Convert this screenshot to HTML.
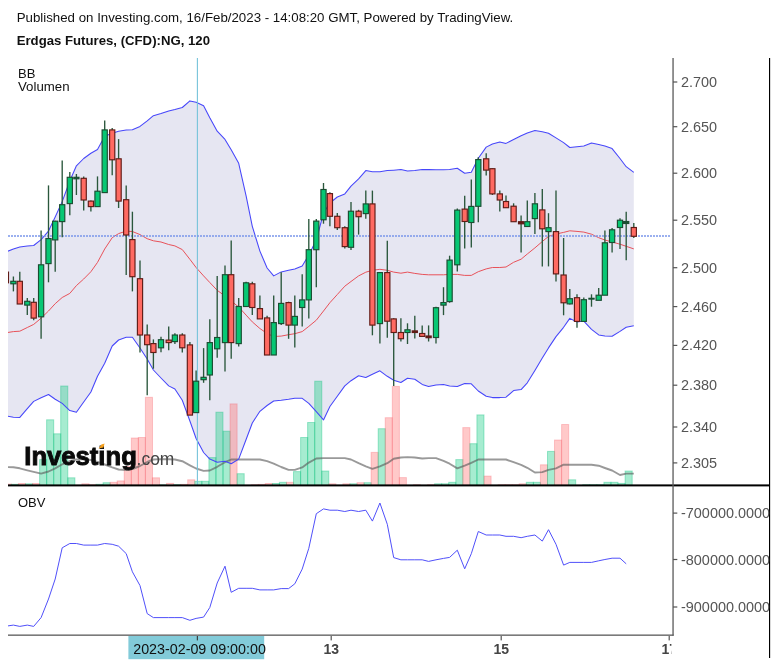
<!DOCTYPE html>
<html lang="de"><head><meta charset="utf-8"><title>Erdgas Futures, (CFD):NG, 120</title>
<style>html,body{margin:0;padding:0;background:#fff;}body{width:777px;height:664px;overflow:hidden;}svg{display:block;}text{font-family:"Liberation Sans", Arial, sans-serif;}</style>
</head><body>
<svg width="777" height="664" viewBox="0 0 777 664">
<defs><clipPath id="cm"><rect x="8" y="58" width="664" height="427"/></clipPath><clipPath id="co"><rect x="8" y="487" width="664" height="148"/></clipPath><clipPath id="cax"><rect x="673" y="58" width="96.5" height="600"/></clipPath><clipPath id="ct"><rect x="8" y="636" width="663.4" height="28"/></clipPath></defs>
<rect width="777" height="664" fill="#fff"/>
<text x="16.7" y="21.8" font-size="13.33" fill="#111" textLength="496.5" lengthAdjust="spacingAndGlyphs">Published on Investing.com, 16/Feb/2023 - 14:08:20 GMT, Powered by TradingView.</text>
<text x="16.7" y="45.2" font-size="13.33" font-weight="bold" fill="#111" textLength="193.3" lengthAdjust="spacingAndGlyphs">Erdgas Futures, (CFD):NG, 120</text>
<g clip-path="url(#cm)">
<polygon points="5.9,252 13.4,249 19.8,247 27.3,246 33.7,245.5 41.1,239.7 48.5,231.1 55.2,217 62.2,201.6 69.8,181 76.4,165.8 83.7,158.5 90.9,153.3 97.5,149.5 104.7,136.3 112.2,133.2 118.6,131.2 126.2,130.1 132.4,129.7 140,126.4 147.2,120.9 153.4,115.7 161,113.5 168.7,111 174.9,109.5 182.3,107.5 189.9,100.9 196.1,102.3 203.6,105.8 209.8,117.8 217.2,131.2 225,139.4 231.2,149.8 238.7,163.3 246.1,195.8 252.3,226.3 259.9,251.1 267.1,268 273.7,275.9 281.2,271.9 288.6,270.3 294.8,269 302.2,266.1 308.8,255 316.3,240 323.5,213 329.9,203 337.3,197 344.8,193.9 351,186.1 358.6,178.9 365.8,170.6 372.4,171.7 379.9,171.7 387.3,170.6 393.7,170.2 400.9,169.6 407.5,171 414.8,170.6 422.2,169.6 428.6,169.6 436,169.8 443.5,169.8 449.6,169.6 457.3,168.2 464.7,173.3 471.3,172.3 478.3,158.3 486.2,147.1 492.4,144 499.8,142 506,143.4 513.6,139.5 521.1,135.8 527.3,133.1 534.9,130.6 542.3,131.7 548.5,133.3 556,137.9 563.6,142.6 569.8,147.5 577,146.7 583.8,146.1 591.5,143 598.7,144.5 604.9,146.1 612.1,148.6 620,158.5 626.2,166.7 633.8,172.3 633.8,325.8 626.2,327.3 620,331.4 612.1,336.2 604.9,335.9 598.7,334.9 591.5,329.3 583.8,321.1 577,322 569.8,318.4 563.6,327.3 556,336.6 548.5,347.9 542.3,358 534.9,370.4 527.3,382.8 521.1,389.6 513.6,390.6 506,397.2 499.8,397.6 492.4,397.6 486.2,396.2 478.3,391 471.3,383.8 464.7,383.4 457.3,386.5 449.6,385.9 443.5,384.4 436,384.9 428.6,386.5 422.2,384.4 414.8,379.2 407.5,378.2 400.9,382.5 393.7,380.2 387.3,376.3 379.9,370.8 372.4,374.2 365.8,377.5 358.6,375.8 351,380.7 344.8,385.9 337.3,396.2 329.9,406.5 323.5,419.9 316.3,411.7 308.8,403.4 302.2,398.3 294.8,398.3 288.6,399.3 281.2,400.3 273.7,401 267.1,405.5 259.9,411.3 252.3,423 246.1,439.5 238.7,459.1 231.2,463.7 225,461.2 217.2,462.2 209.8,459.1 203.6,452.5 196.1,438.5 189.9,421 182.3,400.3 174.9,389 168.7,385.9 161,378 153.4,370 147.2,359 140,348 132.4,337.2 126.2,337.2 118.6,340 112.2,346 104.7,363.2 97.5,376.2 90.9,392 83.7,402 76.4,412.3 69.8,410.6 62.2,403.4 55.2,399.3 48.5,394.5 41.1,397.8 33.7,401.4 27.3,408.6 19.8,417.4 13.4,417.2 5.9,416" fill="#e6e6f2"/>
<rect x="4.3" y="484" width="7.1" height="2.4" fill="rgba(255,100,100,0.35)" stroke="rgba(245,90,100,0.30)" stroke-width="1"/>
<rect x="11.4" y="484.3" width="7.1" height="2.1" fill="rgba(0,200,120,0.35)" stroke="rgba(0,190,120,0.35)" stroke-width="1"/>
<rect x="18.4" y="483.5" width="7.1" height="2.9" fill="rgba(255,100,100,0.35)" stroke="rgba(245,90,100,0.30)" stroke-width="1"/>
<rect x="25.5" y="483.8" width="7.1" height="2.6" fill="rgba(0,200,120,0.35)" stroke="rgba(0,190,120,0.35)" stroke-width="1"/>
<rect x="32.5" y="483.5" width="7.1" height="2.9" fill="rgba(255,100,100,0.35)" stroke="rgba(245,90,100,0.30)" stroke-width="1"/>
<rect x="39.6" y="459.6" width="7.1" height="26.8" fill="rgba(0,200,120,0.35)" stroke="rgba(0,190,120,0.35)" stroke-width="1"/>
<rect x="46.6" y="419.8" width="7.1" height="66.6" fill="rgba(0,200,120,0.35)" stroke="rgba(0,190,120,0.35)" stroke-width="1"/>
<rect x="53.7" y="433.8" width="7.1" height="52.6" fill="rgba(0,200,120,0.35)" stroke="rgba(0,190,120,0.35)" stroke-width="1"/>
<rect x="60.7" y="386" width="7.1" height="100.4" fill="rgba(0,200,120,0.35)" stroke="rgba(0,190,120,0.35)" stroke-width="1"/>
<rect x="67.8" y="477.8" width="7.1" height="8.6" fill="rgba(0,200,120,0.35)" stroke="rgba(0,190,120,0.35)" stroke-width="1"/>
<rect x="81.9" y="483.8" width="7.1" height="2.6" fill="rgba(255,100,100,0.35)" stroke="rgba(245,90,100,0.30)" stroke-width="1"/>
<rect x="88.9" y="484.7" width="7.1" height="1.7" fill="rgba(255,100,100,0.35)" stroke="rgba(245,90,100,0.30)" stroke-width="1"/>
<rect x="96" y="484.3" width="7.1" height="2.1" fill="rgba(0,200,120,0.35)" stroke="rgba(0,190,120,0.35)" stroke-width="1"/>
<rect x="103.1" y="482.7" width="7.1" height="3.7" fill="rgba(0,200,120,0.35)" stroke="rgba(0,190,120,0.35)" stroke-width="1"/>
<rect x="110.1" y="482.3" width="7.1" height="4.1" fill="rgba(255,100,100,0.35)" stroke="rgba(245,90,100,0.30)" stroke-width="1"/>
<rect x="117.2" y="480.9" width="7.1" height="5.5" fill="rgba(255,100,100,0.35)" stroke="rgba(245,90,100,0.30)" stroke-width="1"/>
<rect x="124.2" y="466.5" width="7.1" height="19.9" fill="rgba(255,100,100,0.35)" stroke="rgba(245,90,100,0.30)" stroke-width="1"/>
<rect x="131.3" y="438" width="7.1" height="48.4" fill="rgba(255,100,100,0.35)" stroke="rgba(245,90,100,0.30)" stroke-width="1"/>
<rect x="138.3" y="437.5" width="7.1" height="48.9" fill="rgba(255,100,100,0.35)" stroke="rgba(245,90,100,0.30)" stroke-width="1"/>
<rect x="145.4" y="397.3" width="7.1" height="89.1" fill="rgba(255,100,100,0.35)" stroke="rgba(245,90,100,0.30)" stroke-width="1"/>
<rect x="152.4" y="477.8" width="7.1" height="8.6" fill="rgba(255,100,100,0.35)" stroke="rgba(245,90,100,0.30)" stroke-width="1"/>
<rect x="159.5" y="484.9" width="7.1" height="1.5" fill="rgba(0,200,120,0.35)" stroke="rgba(0,190,120,0.35)" stroke-width="1"/>
<rect x="166.5" y="483.4" width="7.1" height="3" fill="rgba(255,100,100,0.35)" stroke="rgba(245,90,100,0.30)" stroke-width="1"/>
<rect x="173.6" y="484.7" width="7.1" height="1.7" fill="rgba(0,200,120,0.35)" stroke="rgba(0,190,120,0.35)" stroke-width="1"/>
<rect x="180.7" y="484.4" width="7.1" height="2" fill="rgba(255,100,100,0.35)" stroke="rgba(245,90,100,0.30)" stroke-width="1"/>
<rect x="187.7" y="479.8" width="7.1" height="6.6" fill="rgba(255,100,100,0.35)" stroke="rgba(245,90,100,0.30)" stroke-width="1"/>
<rect x="194.8" y="481.3" width="7.1" height="5.1" fill="rgba(0,200,120,0.35)" stroke="rgba(0,190,120,0.35)" stroke-width="1"/>
<rect x="201.8" y="481.3" width="7.1" height="5.1" fill="rgba(0,200,120,0.35)" stroke="rgba(0,190,120,0.35)" stroke-width="1"/>
<rect x="208.9" y="457.6" width="7.1" height="28.8" fill="rgba(0,200,120,0.35)" stroke="rgba(0,190,120,0.35)" stroke-width="1"/>
<rect x="215.9" y="412.2" width="7.1" height="74.2" fill="rgba(0,200,120,0.35)" stroke="rgba(0,190,120,0.35)" stroke-width="1"/>
<rect x="223" y="431.2" width="7.1" height="55.2" fill="rgba(0,200,120,0.35)" stroke="rgba(0,190,120,0.35)" stroke-width="1"/>
<rect x="230" y="403.9" width="7.1" height="82.5" fill="rgba(255,100,100,0.35)" stroke="rgba(245,90,100,0.30)" stroke-width="1"/>
<rect x="237.1" y="473.7" width="7.1" height="12.7" fill="rgba(0,200,120,0.35)" stroke="rgba(0,190,120,0.35)" stroke-width="1"/>
<rect x="251.2" y="484.7" width="7.1" height="1.7" fill="rgba(255,100,100,0.35)" stroke="rgba(245,90,100,0.30)" stroke-width="1"/>
<rect x="258.2" y="484.4" width="7.1" height="2" fill="rgba(255,100,100,0.35)" stroke="rgba(245,90,100,0.30)" stroke-width="1"/>
<rect x="265.3" y="483.5" width="7.1" height="2.9" fill="rgba(255,100,100,0.35)" stroke="rgba(245,90,100,0.30)" stroke-width="1"/>
<rect x="272.4" y="483.5" width="7.1" height="2.9" fill="rgba(0,200,120,0.35)" stroke="rgba(0,190,120,0.35)" stroke-width="1"/>
<rect x="279.4" y="482.3" width="7.1" height="4.1" fill="rgba(0,200,120,0.35)" stroke="rgba(0,190,120,0.35)" stroke-width="1"/>
<rect x="286.5" y="482.3" width="7.1" height="4.1" fill="rgba(255,100,100,0.35)" stroke="rgba(245,90,100,0.30)" stroke-width="1"/>
<rect x="293.5" y="471.6" width="7.1" height="14.8" fill="rgba(0,200,120,0.35)" stroke="rgba(0,190,120,0.35)" stroke-width="1"/>
<rect x="300.6" y="437.5" width="7.1" height="48.9" fill="rgba(0,200,120,0.35)" stroke="rgba(0,190,120,0.35)" stroke-width="1"/>
<rect x="307.6" y="422.5" width="7.1" height="63.9" fill="rgba(0,200,120,0.35)" stroke="rgba(0,190,120,0.35)" stroke-width="1"/>
<rect x="314.7" y="381.2" width="7.1" height="105.2" fill="rgba(0,200,120,0.35)" stroke="rgba(0,190,120,0.35)" stroke-width="1"/>
<rect x="321.7" y="471" width="7.1" height="15.4" fill="rgba(0,200,120,0.35)" stroke="rgba(0,190,120,0.35)" stroke-width="1"/>
<rect x="328.8" y="483.8" width="7.1" height="2.6" fill="rgba(255,100,100,0.35)" stroke="rgba(245,90,100,0.30)" stroke-width="1"/>
<rect x="342.9" y="483.8" width="7.1" height="2.6" fill="rgba(255,100,100,0.35)" stroke="rgba(245,90,100,0.30)" stroke-width="1"/>
<rect x="349.9" y="483.8" width="7.1" height="2.6" fill="rgba(0,200,120,0.35)" stroke="rgba(0,190,120,0.35)" stroke-width="1"/>
<rect x="357" y="482.7" width="7.1" height="3.7" fill="rgba(255,100,100,0.35)" stroke="rgba(245,90,100,0.30)" stroke-width="1"/>
<rect x="364.1" y="482.7" width="7.1" height="3.7" fill="rgba(0,200,120,0.35)" stroke="rgba(0,190,120,0.35)" stroke-width="1"/>
<rect x="371.1" y="452.4" width="7.1" height="34" fill="rgba(255,100,100,0.35)" stroke="rgba(245,90,100,0.30)" stroke-width="1"/>
<rect x="378.2" y="428.7" width="7.1" height="57.7" fill="rgba(0,200,120,0.35)" stroke="rgba(0,190,120,0.35)" stroke-width="1"/>
<rect x="385.2" y="417.7" width="7.1" height="68.7" fill="rgba(255,100,100,0.35)" stroke="rgba(245,90,100,0.30)" stroke-width="1"/>
<rect x="392.3" y="386.4" width="7.1" height="100" fill="rgba(255,100,100,0.35)" stroke="rgba(245,90,100,0.30)" stroke-width="1"/>
<rect x="399.3" y="477.6" width="7.1" height="8.8" fill="rgba(255,100,100,0.35)" stroke="rgba(245,90,100,0.30)" stroke-width="1"/>
<rect x="413.4" y="484.7" width="7.1" height="1.7" fill="rgba(255,100,100,0.35)" stroke="rgba(245,90,100,0.30)" stroke-width="1"/>
<rect x="427.5" y="484.7" width="7.1" height="1.7" fill="rgba(255,100,100,0.35)" stroke="rgba(245,90,100,0.30)" stroke-width="1"/>
<rect x="434.6" y="483.8" width="7.1" height="2.6" fill="rgba(0,200,120,0.35)" stroke="rgba(0,190,120,0.35)" stroke-width="1"/>
<rect x="441.6" y="483.8" width="7.1" height="2.6" fill="rgba(0,200,120,0.35)" stroke="rgba(0,190,120,0.35)" stroke-width="1"/>
<rect x="448.7" y="482.3" width="7.1" height="4.1" fill="rgba(0,200,120,0.35)" stroke="rgba(0,190,120,0.35)" stroke-width="1"/>
<rect x="455.8" y="459.6" width="7.1" height="26.8" fill="rgba(0,200,120,0.35)" stroke="rgba(0,190,120,0.35)" stroke-width="1"/>
<rect x="462.8" y="427.6" width="7.1" height="58.8" fill="rgba(255,100,100,0.35)" stroke="rgba(245,90,100,0.30)" stroke-width="1"/>
<rect x="469.9" y="443.7" width="7.1" height="42.7" fill="rgba(0,200,120,0.35)" stroke="rgba(0,190,120,0.35)" stroke-width="1"/>
<rect x="476.9" y="414.9" width="7.1" height="71.5" fill="rgba(0,200,120,0.35)" stroke="rgba(0,190,120,0.35)" stroke-width="1"/>
<rect x="484" y="476.1" width="7.1" height="10.3" fill="rgba(255,100,100,0.35)" stroke="rgba(245,90,100,0.30)" stroke-width="1"/>
<rect x="498.1" y="484.7" width="7.1" height="1.7" fill="rgba(255,100,100,0.35)" stroke="rgba(245,90,100,0.30)" stroke-width="1"/>
<rect x="505.1" y="484.7" width="7.1" height="1.7" fill="rgba(255,100,100,0.35)" stroke="rgba(245,90,100,0.30)" stroke-width="1"/>
<rect x="512.2" y="484.7" width="7.1" height="1.7" fill="rgba(255,100,100,0.35)" stroke="rgba(245,90,100,0.30)" stroke-width="1"/>
<rect x="519.2" y="483.8" width="7.1" height="2.6" fill="rgba(255,100,100,0.35)" stroke="rgba(245,90,100,0.30)" stroke-width="1"/>
<rect x="526.3" y="482.3" width="7.1" height="4.1" fill="rgba(0,200,120,0.35)" stroke="rgba(0,190,120,0.35)" stroke-width="1"/>
<rect x="533.4" y="482.3" width="7.1" height="4.1" fill="rgba(0,200,120,0.35)" stroke="rgba(0,190,120,0.35)" stroke-width="1"/>
<rect x="540.4" y="464.8" width="7.1" height="21.6" fill="rgba(255,100,100,0.35)" stroke="rgba(245,90,100,0.30)" stroke-width="1"/>
<rect x="547.5" y="451.4" width="7.1" height="35" fill="rgba(0,200,120,0.35)" stroke="rgba(0,190,120,0.35)" stroke-width="1"/>
<rect x="554.5" y="440" width="7.1" height="46.4" fill="rgba(255,100,100,0.35)" stroke="rgba(245,90,100,0.30)" stroke-width="1"/>
<rect x="561.6" y="424.5" width="7.1" height="61.9" fill="rgba(255,100,100,0.35)" stroke="rgba(245,90,100,0.30)" stroke-width="1"/>
<rect x="568.6" y="479.8" width="7.1" height="6.6" fill="rgba(0,200,120,0.35)" stroke="rgba(0,190,120,0.35)" stroke-width="1"/>
<rect x="582.7" y="484.7" width="7.1" height="1.7" fill="rgba(0,200,120,0.35)" stroke="rgba(0,190,120,0.35)" stroke-width="1"/>
<rect x="589.8" y="484.7" width="7.1" height="1.7" fill="rgba(0,200,120,0.35)" stroke="rgba(0,190,120,0.35)" stroke-width="1"/>
<rect x="596.8" y="484.7" width="7.1" height="1.7" fill="rgba(0,200,120,0.35)" stroke="rgba(0,190,120,0.35)" stroke-width="1"/>
<rect x="603.9" y="482.3" width="7.1" height="4.1" fill="rgba(0,200,120,0.35)" stroke="rgba(0,190,120,0.35)" stroke-width="1"/>
<rect x="610.9" y="482.3" width="7.1" height="4.1" fill="rgba(0,200,120,0.35)" stroke="rgba(0,190,120,0.35)" stroke-width="1"/>
<rect x="618" y="483.4" width="7.1" height="3" fill="rgba(0,200,120,0.35)" stroke="rgba(0,190,120,0.35)" stroke-width="1"/>
<rect x="625.1" y="471" width="7.1" height="15.4" fill="rgba(0,200,120,0.35)" stroke="rgba(0,190,120,0.35)" stroke-width="1"/>
<polyline points="5.9,467 13.4,467.3 19.8,468.3 27.3,470.3 33.7,471.9 41.1,473.6 48.5,471.5 55.2,468.4 62.2,464.3 69.8,461 76.4,459.5 83.7,459 90.9,460 97.5,462 104.7,464.5 112.2,467.4 118.6,469.5 126.2,470 132.4,469 140,466 147.2,462 153.4,459.5 161,459.1 168.7,459.3 174.9,459.5 182.3,461.2 189.9,465.3 196.1,468.5 203.6,470.9 209.8,470.5 217.2,466.8 225,462.2 231.2,459.5 238.7,459.5 246.1,459.5 252.3,459.5 259.9,459.5 267.1,461.2 273.7,463.7 281.2,467 288.6,469.9 294.8,469.9 302.2,467.4 308.8,462.6 316.3,458.5 323.5,458.1 329.9,458.1 337.3,458.1 344.8,458.1 351,459.5 358.6,463.2 365.8,466.3 372.4,468.8 379.9,466.3 387.3,463.2 393.7,458.7 400.9,457.5 407.5,457.1 414.8,457.5 422.2,458.5 428.6,458.1 436,458.1 443.5,460.8 449.6,463.7 457.3,468.4 464.7,465.7 471.3,462.8 478.3,459.5 486.2,459.5 492.4,459.5 499.8,459.5 506,459.5 513.6,462.2 521.1,464.9 527.3,467.8 534.9,472.5 542.3,472.1 548.5,469.9 556,468.4 563.6,464.7 569.8,464.7 577,464.7 583.8,464.7 591.5,464.7 598.7,465.7 604.9,468 612.1,470.5 620,475 626.2,473.6 633.8,473.6" fill="none" stroke="rgba(90,90,90,0.62)" stroke-width="1.9" stroke-linejoin="round"/>
<polyline points="5.9,252 13.4,249 19.8,247 27.3,246 33.7,245.5 41.1,239.7 48.5,231.1 55.2,217 62.2,201.6 69.8,181 76.4,165.8 83.7,158.5 90.9,153.3 97.5,149.5 104.7,136.3 112.2,133.2 118.6,131.2 126.2,130.1 132.4,129.7 140,126.4 147.2,120.9 153.4,115.7 161,113.5 168.7,111 174.9,109.5 182.3,107.5 189.9,100.9 196.1,102.3 203.6,105.8 209.8,117.8 217.2,131.2 225,139.4 231.2,149.8 238.7,163.3 246.1,195.8 252.3,226.3 259.9,251.1 267.1,268 273.7,275.9 281.2,271.9 288.6,270.3 294.8,269 302.2,266.1 308.8,255 316.3,240 323.5,213 329.9,203 337.3,197 344.8,193.9 351,186.1 358.6,178.9 365.8,170.6 372.4,171.7 379.9,171.7 387.3,170.6 393.7,170.2 400.9,169.6 407.5,171 414.8,170.6 422.2,169.6 428.6,169.6 436,169.8 443.5,169.8 449.6,169.6 457.3,168.2 464.7,173.3 471.3,172.3 478.3,158.3 486.2,147.1 492.4,144 499.8,142 506,143.4 513.6,139.5 521.1,135.8 527.3,133.1 534.9,130.6 542.3,131.7 548.5,133.3 556,137.9 563.6,142.6 569.8,147.5 577,146.7 583.8,146.1 591.5,143 598.7,144.5 604.9,146.1 612.1,148.6 620,158.5 626.2,166.7 633.8,172.3" fill="none" stroke="#4646fa" stroke-width="1.05" stroke-linejoin="round"/>
<polyline points="5.9,416 13.4,417.2 19.8,417.4 27.3,408.6 33.7,401.4 41.1,397.8 48.5,394.5 55.2,399.3 62.2,403.4 69.8,410.6 76.4,412.3 83.7,402 90.9,392 97.5,376.2 104.7,363.2 112.2,346 118.6,340 126.2,337.2 132.4,337.2 140,348 147.2,359 153.4,370 161,378 168.7,385.9 174.9,389 182.3,400.3 189.9,421 196.1,438.5 203.6,452.5 209.8,459.1 217.2,462.2 225,461.2 231.2,463.7 238.7,459.1 246.1,439.5 252.3,423 259.9,411.3 267.1,405.5 273.7,401 281.2,400.3 288.6,399.3 294.8,398.3 302.2,398.3 308.8,403.4 316.3,411.7 323.5,419.9 329.9,406.5 337.3,396.2 344.8,385.9 351,380.7 358.6,375.8 365.8,377.5 372.4,374.2 379.9,370.8 387.3,376.3 393.7,380.2 400.9,382.5 407.5,378.2 414.8,379.2 422.2,384.4 428.6,386.5 436,384.9 443.5,384.4 449.6,385.9 457.3,386.5 464.7,383.4 471.3,383.8 478.3,391 486.2,396.2 492.4,397.6 499.8,397.6 506,397.2 513.6,390.6 521.1,389.6 527.3,382.8 534.9,370.4 542.3,358 548.5,347.9 556,336.6 563.6,327.3 569.8,318.4 577,322 583.8,321.1 591.5,329.3 598.7,334.9 604.9,335.9 612.1,336.2 620,331.4 626.2,327.3 633.8,325.8" fill="none" stroke="#4646fa" stroke-width="1.05" stroke-linejoin="round"/>
<polyline points="5.9,332.8 13.4,331.6 19.8,331.2 27.3,327.5 33.7,324.4 41.1,318.2 48.5,311 55.2,303.7 62.2,297.5 69.8,293.4 76.4,285.6 83.7,279 90.9,271.7 97.5,262.4 104.7,249 112.2,237.7 118.6,233.6 126.2,231.1 132.4,231.5 140,234.6 147.2,238.7 153.4,240.8 161,242 168.7,244.5 174.9,245.9 182.3,249.6 189.9,259.3 196.1,267.5 203.6,275.9 209.8,282.5 217.2,290.3 225,296 231.2,301 238.7,307 246.1,315.1 252.3,321.9 259.9,328.5 267.1,333.5 273.7,336.5 281.2,336.1 288.6,334.7 294.8,333.7 302.2,331.6 308.8,326.4 316.3,320.2 323.5,311 329.9,302.7 337.3,294.5 344.8,286.2 351,281.5 358.6,275.9 365.8,272.2 372.4,270.3 379.9,269.3 387.3,270.3 393.7,272.1 400.9,273.2 407.5,272.1 414.8,273.4 422.2,274.4 428.6,274.8 436,274.8 443.5,274.8 449.6,274.4 457.3,274.4 464.7,275.4 471.3,275.4 478.3,271.7 486.2,268.9 492.4,267.5 499.8,267.5 506,267 513.6,262.3 521.1,259.2 527.3,254 534.9,247.9 542.3,241.5 548.5,236.4 556,234 563.6,232.4 569.8,230.8 577,231.4 583.8,232.1 591.5,234.2 598.7,237.7 604.9,240 612.1,242 620,244.2 626.2,246.3 633.8,248.9" fill="none" stroke="#e8525a" stroke-width="1.0" stroke-linejoin="round"/>
<line x1="197.4" y1="57.5" x2="197.4" y2="485" stroke="#76c3da" stroke-width="1.1"/>
<line x1="8" y1="236" x2="670.4" y2="236" stroke="#7b97ea" stroke-width="1.7" stroke-dasharray="2,1"/>
<line x1="5.9" y1="271.8" x2="5.9" y2="282.5" stroke="#2a573c" stroke-width="1.35"/>
<rect x="3.3" y="272.1" width="5.2" height="10.7" fill="#ff6a62" stroke="#601b16" stroke-width="1.15"/>
<line x1="13.4" y1="276.5" x2="13.4" y2="291.4" stroke="#2a573c" stroke-width="1.35"/>
<rect x="10.8" y="281.3" width="5.2" height="2.5" fill="#07c774" stroke="#1a4d31" stroke-width="1.15"/>
<line x1="19.8" y1="271.8" x2="19.8" y2="303.7" stroke="#2a573c" stroke-width="1.35"/>
<rect x="17.2" y="281.3" width="5.2" height="22.7" fill="#ff6a62" stroke="#601b16" stroke-width="1.15"/>
<line x1="27.3" y1="298" x2="27.3" y2="315" stroke="#2a573c" stroke-width="1.35"/>
<rect x="24.7" y="301.3" width="5.2" height="3.8" fill="#07c774" stroke="#1a4d31" stroke-width="1.15"/>
<line x1="33.7" y1="298" x2="33.7" y2="320.2" stroke="#2a573c" stroke-width="1.35"/>
<rect x="31.1" y="302.3" width="5.2" height="15.8" fill="#ff6a62" stroke="#601b16" stroke-width="1.15"/>
<line x1="41.1" y1="230.6" x2="41.1" y2="338.8" stroke="#2a573c" stroke-width="1.35"/>
<rect x="38.5" y="264.8" width="5.2" height="52" fill="#07c774" stroke="#1a4d31" stroke-width="1.15"/>
<line x1="48.5" y1="185.4" x2="48.5" y2="282.3" stroke="#2a573c" stroke-width="1.35"/>
<rect x="45.9" y="238.6" width="5.2" height="25" fill="#07c774" stroke="#1a4d31" stroke-width="1.15"/>
<line x1="55.2" y1="220.8" x2="55.2" y2="271.8" stroke="#2a573c" stroke-width="1.35"/>
<rect x="52.6" y="221.2" width="5.2" height="18.7" fill="#07c774" stroke="#1a4d31" stroke-width="1.15"/>
<line x1="62.2" y1="160.4" x2="62.2" y2="237.3" stroke="#2a573c" stroke-width="1.35"/>
<rect x="59.6" y="204.7" width="5.2" height="16.9" fill="#07c774" stroke="#1a4d31" stroke-width="1.15"/>
<line x1="69.8" y1="171.9" x2="69.8" y2="215.2" stroke="#2a573c" stroke-width="1.35"/>
<rect x="67.2" y="177.3" width="5.2" height="26.3" fill="#07c774" stroke="#1a4d31" stroke-width="1.15"/>
<line x1="76.4" y1="174" x2="76.4" y2="195" stroke="#2a573c" stroke-width="1.35"/>
<rect x="73.8" y="177.3" width="5.2" height="1.5" fill="#1a4d31" stroke="#1a4d31" stroke-width="1.15"/>
<line x1="83.7" y1="176.4" x2="83.7" y2="210.5" stroke="#2a573c" stroke-width="1.35"/>
<rect x="81.1" y="178.3" width="5.2" height="21.7" fill="#ff6a62" stroke="#601b16" stroke-width="1.15"/>
<line x1="90.9" y1="200.4" x2="90.9" y2="211.5" stroke="#2a573c" stroke-width="1.35"/>
<rect x="88.3" y="201.1" width="5.2" height="5.5" fill="#ff6a62" stroke="#601b16" stroke-width="1.15"/>
<line x1="97.5" y1="176.4" x2="97.5" y2="206.3" stroke="#2a573c" stroke-width="1.35"/>
<rect x="94.9" y="191.2" width="5.2" height="15.4" fill="#07c774" stroke="#1a4d31" stroke-width="1.15"/>
<line x1="104.7" y1="120.4" x2="104.7" y2="192.3" stroke="#2a573c" stroke-width="1.35"/>
<rect x="102.1" y="129.9" width="5.2" height="62.7" fill="#07c774" stroke="#1a4d31" stroke-width="1.15"/>
<line x1="112.2" y1="127.9" x2="112.2" y2="175.2" stroke="#2a573c" stroke-width="1.35"/>
<rect x="109.6" y="129.9" width="5.2" height="29.9" fill="#ff6a62" stroke="#601b16" stroke-width="1.15"/>
<line x1="118.6" y1="139.1" x2="118.6" y2="208" stroke="#2a573c" stroke-width="1.35"/>
<rect x="116" y="158.8" width="5.2" height="42.3" fill="#ff6a62" stroke="#601b16" stroke-width="1.15"/>
<line x1="126.2" y1="185.4" x2="126.2" y2="274.9" stroke="#2a573c" stroke-width="1.35"/>
<rect x="123.6" y="199.7" width="5.2" height="35.3" fill="#ff6a62" stroke="#601b16" stroke-width="1.15"/>
<line x1="132.4" y1="211.7" x2="132.4" y2="291.4" stroke="#2a573c" stroke-width="1.35"/>
<rect x="129.8" y="239.6" width="5.2" height="37.1" fill="#ff6a62" stroke="#601b16" stroke-width="1.15"/>
<line x1="140" y1="260.5" x2="140" y2="352.6" stroke="#2a573c" stroke-width="1.35"/>
<rect x="137.4" y="278.7" width="5.2" height="56.3" fill="#ff6a62" stroke="#601b16" stroke-width="1.15"/>
<line x1="147.2" y1="324.4" x2="147.2" y2="395.2" stroke="#2a573c" stroke-width="1.35"/>
<rect x="144.6" y="335" width="5.2" height="9.7" fill="#ff6a62" stroke="#601b16" stroke-width="1.15"/>
<line x1="153.4" y1="339.4" x2="153.4" y2="368.7" stroke="#2a573c" stroke-width="1.35"/>
<rect x="150.8" y="343.6" width="5.2" height="8.9" fill="#ff6a62" stroke="#601b16" stroke-width="1.15"/>
<line x1="161" y1="336.7" x2="161" y2="352.2" stroke="#2a573c" stroke-width="1.35"/>
<rect x="158.4" y="339.7" width="5.2" height="8.1" fill="#07c774" stroke="#1a4d31" stroke-width="1.15"/>
<line x1="168.7" y1="326.4" x2="168.7" y2="350.2" stroke="#2a573c" stroke-width="1.35"/>
<rect x="166.1" y="340.1" width="5.2" height="2.5" fill="#ff6a62" stroke="#601b16" stroke-width="1.15"/>
<line x1="174.9" y1="333.2" x2="174.9" y2="344" stroke="#2a573c" stroke-width="1.35"/>
<rect x="172.3" y="335" width="5.2" height="6.6" fill="#07c774" stroke="#1a4d31" stroke-width="1.15"/>
<line x1="182.3" y1="333.2" x2="182.3" y2="352.6" stroke="#2a573c" stroke-width="1.35"/>
<rect x="179.7" y="335" width="5.2" height="12.8" fill="#ff6a62" stroke="#601b16" stroke-width="1.15"/>
<line x1="189.9" y1="341.9" x2="189.9" y2="414.8" stroke="#2a573c" stroke-width="1.35"/>
<rect x="187.3" y="344.9" width="5.2" height="70.2" fill="#ff6a62" stroke="#601b16" stroke-width="1.15"/>
<line x1="196.1" y1="370.4" x2="196.1" y2="412.3" stroke="#2a573c" stroke-width="1.35"/>
<rect x="193.5" y="381.2" width="5.2" height="31.4" fill="#07c774" stroke="#1a4d31" stroke-width="1.15"/>
<line x1="203.6" y1="348.1" x2="203.6" y2="382.8" stroke="#2a573c" stroke-width="1.35"/>
<rect x="201" y="377.3" width="5.2" height="2.4" fill="#07c774" stroke="#1a4d31" stroke-width="1.15"/>
<line x1="209.8" y1="319.2" x2="209.8" y2="400.3" stroke="#2a573c" stroke-width="1.35"/>
<rect x="207.2" y="342.6" width="5.2" height="32.4" fill="#07c774" stroke="#1a4d31" stroke-width="1.15"/>
<line x1="217.2" y1="275.9" x2="217.2" y2="357.8" stroke="#2a573c" stroke-width="1.35"/>
<rect x="214.6" y="337.5" width="5.2" height="11.3" fill="#07c774" stroke="#1a4d31" stroke-width="1.15"/>
<line x1="225" y1="265.5" x2="225" y2="371.6" stroke="#2a573c" stroke-width="1.35"/>
<rect x="222.4" y="274.7" width="5.2" height="67.9" fill="#07c774" stroke="#1a4d31" stroke-width="1.15"/>
<line x1="231.2" y1="240.4" x2="231.2" y2="358.8" stroke="#2a573c" stroke-width="1.35"/>
<rect x="228.6" y="274.7" width="5.2" height="67.9" fill="#ff6a62" stroke="#601b16" stroke-width="1.15"/>
<line x1="238.7" y1="298" x2="238.7" y2="346.4" stroke="#2a573c" stroke-width="1.35"/>
<rect x="236.1" y="306.5" width="5.2" height="37.1" fill="#07c774" stroke="#1a4d31" stroke-width="1.15"/>
<line x1="246.1" y1="281.7" x2="246.1" y2="306.2" stroke="#2a573c" stroke-width="1.35"/>
<rect x="243.5" y="282.8" width="5.2" height="23.7" fill="#07c774" stroke="#1a4d31" stroke-width="1.15"/>
<line x1="252.3" y1="281.7" x2="252.3" y2="315.1" stroke="#2a573c" stroke-width="1.35"/>
<rect x="249.7" y="283.8" width="5.2" height="23.7" fill="#ff6a62" stroke="#601b16" stroke-width="1.15"/>
<line x1="259.9" y1="295.5" x2="259.9" y2="318.6" stroke="#2a573c" stroke-width="1.35"/>
<rect x="257.3" y="308.6" width="5.2" height="10.3" fill="#ff6a62" stroke="#601b16" stroke-width="1.15"/>
<line x1="267.1" y1="315.7" x2="267.1" y2="354.7" stroke="#2a573c" stroke-width="1.35"/>
<rect x="264.5" y="317.9" width="5.2" height="37.1" fill="#ff6a62" stroke="#601b16" stroke-width="1.15"/>
<line x1="273.7" y1="295.5" x2="273.7" y2="354.7" stroke="#2a573c" stroke-width="1.35"/>
<rect x="271.1" y="322.6" width="5.2" height="32.4" fill="#07c774" stroke="#1a4d31" stroke-width="1.15"/>
<line x1="281.2" y1="272.2" x2="281.2" y2="325" stroke="#2a573c" stroke-width="1.35"/>
<rect x="278.6" y="303.4" width="5.2" height="20.2" fill="#07c774" stroke="#1a4d31" stroke-width="1.15"/>
<line x1="288.6" y1="301.7" x2="288.6" y2="338.8" stroke="#2a573c" stroke-width="1.35"/>
<rect x="286" y="302.6" width="5.2" height="22.5" fill="#ff6a62" stroke="#601b16" stroke-width="1.15"/>
<line x1="294.8" y1="295.5" x2="294.8" y2="347.5" stroke="#2a573c" stroke-width="1.35"/>
<rect x="292.2" y="316.4" width="5.2" height="8.7" fill="#07c774" stroke="#1a4d31" stroke-width="1.15"/>
<line x1="302.2" y1="274.2" x2="302.2" y2="326.4" stroke="#2a573c" stroke-width="1.35"/>
<rect x="299.6" y="299.9" width="5.2" height="7.6" fill="#07c774" stroke="#1a4d31" stroke-width="1.15"/>
<line x1="308.8" y1="219.1" x2="308.8" y2="318.6" stroke="#2a573c" stroke-width="1.35"/>
<rect x="306.2" y="249.7" width="5.2" height="50.2" fill="#07c774" stroke="#1a4d31" stroke-width="1.15"/>
<line x1="316.3" y1="219.1" x2="316.3" y2="287.2" stroke="#2a573c" stroke-width="1.35"/>
<rect x="313.7" y="221.1" width="5.2" height="28.6" fill="#07c774" stroke="#1a4d31" stroke-width="1.15"/>
<line x1="323.5" y1="183" x2="323.5" y2="223.7" stroke="#2a573c" stroke-width="1.35"/>
<rect x="320.9" y="189.5" width="5.2" height="30.3" fill="#07c774" stroke="#1a4d31" stroke-width="1.15"/>
<line x1="329.9" y1="192.3" x2="329.9" y2="226.3" stroke="#2a573c" stroke-width="1.35"/>
<rect x="327.3" y="193.6" width="5.2" height="22.7" fill="#ff6a62" stroke="#601b16" stroke-width="1.15"/>
<line x1="337.3" y1="212.9" x2="337.3" y2="230" stroke="#2a573c" stroke-width="1.35"/>
<rect x="334.7" y="216.3" width="5.2" height="11.4" fill="#ff6a62" stroke="#601b16" stroke-width="1.15"/>
<line x1="344.8" y1="226.3" x2="344.8" y2="248.6" stroke="#2a573c" stroke-width="1.35"/>
<rect x="342.2" y="227.7" width="5.2" height="18.9" fill="#ff6a62" stroke="#601b16" stroke-width="1.15"/>
<line x1="351" y1="202" x2="351" y2="250" stroke="#2a573c" stroke-width="1.35"/>
<rect x="348.4" y="211.2" width="5.2" height="36.1" fill="#07c774" stroke="#1a4d31" stroke-width="1.15"/>
<line x1="358.6" y1="209.8" x2="358.6" y2="234.6" stroke="#2a573c" stroke-width="1.35"/>
<rect x="356" y="211.2" width="5.2" height="5.5" fill="#ff6a62" stroke="#601b16" stroke-width="1.15"/>
<line x1="365.8" y1="190.6" x2="365.8" y2="218.7" stroke="#2a573c" stroke-width="1.35"/>
<rect x="363.2" y="203.9" width="5.2" height="9.7" fill="#07c774" stroke="#1a4d31" stroke-width="1.15"/>
<line x1="372.4" y1="190.6" x2="372.4" y2="335.3" stroke="#2a573c" stroke-width="1.35"/>
<rect x="369.8" y="203.9" width="5.2" height="121.2" fill="#ff6a62" stroke="#601b16" stroke-width="1.15"/>
<line x1="379.9" y1="272.1" x2="379.9" y2="343.6" stroke="#2a573c" stroke-width="1.35"/>
<rect x="377.3" y="272.6" width="5.2" height="51" fill="#07c774" stroke="#1a4d31" stroke-width="1.15"/>
<line x1="387.3" y1="240.8" x2="387.3" y2="337.8" stroke="#2a573c" stroke-width="1.35"/>
<rect x="384.7" y="272.6" width="5.2" height="48.6" fill="#ff6a62" stroke="#601b16" stroke-width="1.15"/>
<line x1="393.7" y1="318.2" x2="393.7" y2="385.9" stroke="#2a573c" stroke-width="1.35"/>
<rect x="391.1" y="318.9" width="5.2" height="13.6" fill="#ff6a62" stroke="#601b16" stroke-width="1.15"/>
<line x1="400.9" y1="318.2" x2="400.9" y2="341.5" stroke="#2a573c" stroke-width="1.35"/>
<rect x="398.3" y="332.5" width="5.2" height="6.2" fill="#ff6a62" stroke="#601b16" stroke-width="1.15"/>
<line x1="407.5" y1="323.3" x2="407.5" y2="344" stroke="#2a573c" stroke-width="1.35"/>
<rect x="404.9" y="329.8" width="5.2" height="2.7" fill="#07c774" stroke="#1a4d31" stroke-width="1.15"/>
<line x1="414.8" y1="315.7" x2="414.8" y2="338.4" stroke="#2a573c" stroke-width="1.35"/>
<rect x="412.2" y="330.9" width="5.2" height="1.6" fill="#601b16" stroke="#601b16" stroke-width="1.15"/>
<line x1="422.2" y1="325.4" x2="422.2" y2="336.1" stroke="#2a573c" stroke-width="1.35"/>
<rect x="419.6" y="333.5" width="5.2" height="2.9" fill="#ff6a62" stroke="#601b16" stroke-width="1.15"/>
<line x1="428.6" y1="325.4" x2="428.6" y2="341.5" stroke="#2a573c" stroke-width="1.35"/>
<rect x="426" y="336" width="5.2" height="1.7" fill="#601b16" stroke="#601b16" stroke-width="1.15"/>
<line x1="436" y1="306.8" x2="436" y2="343.6" stroke="#2a573c" stroke-width="1.35"/>
<rect x="433.4" y="307.7" width="5.2" height="29.8" fill="#07c774" stroke="#1a4d31" stroke-width="1.15"/>
<line x1="443.5" y1="287.2" x2="443.5" y2="315.1" stroke="#2a573c" stroke-width="1.35"/>
<rect x="440.9" y="302.6" width="5.2" height="2.5" fill="#07c774" stroke="#1a4d31" stroke-width="1.15"/>
<line x1="449.6" y1="255.7" x2="449.6" y2="302.7" stroke="#2a573c" stroke-width="1.35"/>
<rect x="447" y="260.1" width="5.2" height="41.5" fill="#07c774" stroke="#1a4d31" stroke-width="1.15"/>
<line x1="457.3" y1="208.4" x2="457.3" y2="271.5" stroke="#2a573c" stroke-width="1.35"/>
<rect x="454.7" y="210.1" width="5.2" height="54.7" fill="#07c774" stroke="#1a4d31" stroke-width="1.15"/>
<line x1="464.7" y1="195.8" x2="464.7" y2="248.6" stroke="#2a573c" stroke-width="1.35"/>
<rect x="462.1" y="209.1" width="5.2" height="12.4" fill="#ff6a62" stroke="#601b16" stroke-width="1.15"/>
<line x1="471.3" y1="179.5" x2="471.3" y2="247.4" stroke="#2a573c" stroke-width="1.35"/>
<rect x="468.7" y="206.4" width="5.2" height="16.1" fill="#07c774" stroke="#1a4d31" stroke-width="1.15"/>
<line x1="478.3" y1="157.2" x2="478.3" y2="222.2" stroke="#2a573c" stroke-width="1.35"/>
<rect x="475.7" y="159.6" width="5.2" height="46.7" fill="#07c774" stroke="#1a4d31" stroke-width="1.15"/>
<line x1="486.2" y1="153.3" x2="486.2" y2="175.4" stroke="#2a573c" stroke-width="1.35"/>
<rect x="483.6" y="158.8" width="5.2" height="11.3" fill="#ff6a62" stroke="#601b16" stroke-width="1.15"/>
<line x1="492.4" y1="168.4" x2="492.4" y2="195" stroke="#2a573c" stroke-width="1.35"/>
<rect x="489.8" y="168.7" width="5.2" height="25.2" fill="#ff6a62" stroke="#601b16" stroke-width="1.15"/>
<line x1="499.8" y1="190.5" x2="499.8" y2="211.5" stroke="#2a573c" stroke-width="1.35"/>
<rect x="497.2" y="193.9" width="5.2" height="6.1" fill="#ff6a62" stroke="#601b16" stroke-width="1.15"/>
<line x1="506" y1="195.6" x2="506" y2="207.4" stroke="#2a573c" stroke-width="1.35"/>
<rect x="503.4" y="201.5" width="5.2" height="6.2" fill="#ff6a62" stroke="#601b16" stroke-width="1.15"/>
<line x1="513.6" y1="203.3" x2="513.6" y2="221.4" stroke="#2a573c" stroke-width="1.35"/>
<rect x="511" y="206.2" width="5.2" height="15.5" fill="#ff6a62" stroke="#601b16" stroke-width="1.15"/>
<line x1="521.1" y1="215.6" x2="521.1" y2="252.6" stroke="#2a573c" stroke-width="1.35"/>
<rect x="518.5" y="221.7" width="5.2" height="2.1" fill="#601b16" stroke="#601b16" stroke-width="1.15"/>
<line x1="527.3" y1="200.4" x2="527.3" y2="226.2" stroke="#2a573c" stroke-width="1.35"/>
<rect x="524.7" y="221.7" width="5.2" height="4.8" fill="#07c774" stroke="#1a4d31" stroke-width="1.15"/>
<line x1="534.9" y1="193.1" x2="534.9" y2="233.9" stroke="#2a573c" stroke-width="1.35"/>
<rect x="532.3" y="203.8" width="5.2" height="14.8" fill="#07c774" stroke="#1a4d31" stroke-width="1.15"/>
<line x1="542.3" y1="189" x2="542.3" y2="266.4" stroke="#2a573c" stroke-width="1.35"/>
<rect x="539.7" y="209.9" width="5.2" height="18.9" fill="#ff6a62" stroke="#601b16" stroke-width="1.15"/>
<line x1="548.5" y1="213.2" x2="548.5" y2="266.4" stroke="#2a573c" stroke-width="1.35"/>
<rect x="545.9" y="227.7" width="5.2" height="3.9" fill="#07c774" stroke="#1a4d31" stroke-width="1.15"/>
<line x1="556" y1="190.5" x2="556" y2="281.5" stroke="#2a573c" stroke-width="1.35"/>
<rect x="553.4" y="231.6" width="5.2" height="42.3" fill="#ff6a62" stroke="#601b16" stroke-width="1.15"/>
<line x1="563.6" y1="238" x2="563.6" y2="315.3" stroke="#2a573c" stroke-width="1.35"/>
<rect x="561" y="275" width="5.2" height="27.8" fill="#ff6a62" stroke="#601b16" stroke-width="1.15"/>
<line x1="569.8" y1="289.1" x2="569.8" y2="304.6" stroke="#2a573c" stroke-width="1.35"/>
<rect x="567.2" y="298.7" width="5.2" height="5.2" fill="#07c774" stroke="#1a4d31" stroke-width="1.15"/>
<line x1="577" y1="294.3" x2="577" y2="327.7" stroke="#2a573c" stroke-width="1.35"/>
<rect x="574.4" y="297.7" width="5.2" height="23.7" fill="#ff6a62" stroke="#601b16" stroke-width="1.15"/>
<line x1="583.8" y1="297.4" x2="583.8" y2="321.1" stroke="#2a573c" stroke-width="1.35"/>
<rect x="581.2" y="299.7" width="5.2" height="21.7" fill="#07c774" stroke="#1a4d31" stroke-width="1.15"/>
<line x1="591.5" y1="294.3" x2="591.5" y2="306.7" stroke="#2a573c" stroke-width="1.35"/>
<rect x="588.9" y="298.3" width="5.2" height="0.8" fill="#1a4d31" stroke="#1a4d31" stroke-width="1.15"/>
<line x1="598.7" y1="288.1" x2="598.7" y2="300" stroke="#2a573c" stroke-width="1.35"/>
<rect x="596.1" y="295.2" width="5.2" height="5.1" fill="#07c774" stroke="#1a4d31" stroke-width="1.15"/>
<line x1="604.9" y1="230.5" x2="604.9" y2="294.9" stroke="#2a573c" stroke-width="1.35"/>
<rect x="602.3" y="242.8" width="5.2" height="52.4" fill="#07c774" stroke="#1a4d31" stroke-width="1.15"/>
<line x1="612.1" y1="228" x2="612.1" y2="252.6" stroke="#2a573c" stroke-width="1.35"/>
<rect x="609.5" y="229.8" width="5.2" height="12.7" fill="#07c774" stroke="#1a4d31" stroke-width="1.15"/>
<line x1="620" y1="218.3" x2="620" y2="248.9" stroke="#2a573c" stroke-width="1.35"/>
<rect x="617.4" y="220.2" width="5.2" height="7.3" fill="#07c774" stroke="#1a4d31" stroke-width="1.15"/>
<line x1="626.2" y1="211.7" x2="626.2" y2="260.2" stroke="#2a573c" stroke-width="1.35"/>
<rect x="623.6" y="221.5" width="5.2" height="2" fill="#1a4d31" stroke="#1a4d31" stroke-width="1.15"/>
<line x1="633.8" y1="223.1" x2="633.8" y2="238.1" stroke="#2a573c" stroke-width="1.35"/>
<rect x="631.2" y="227.5" width="5.2" height="8.8" fill="#ff6a62" stroke="#601b16" stroke-width="1.15"/>
</g>
<g>
<text x="24.3" y="464.6" font-size="25" font-weight="bold" fill="#0a0a0a" stroke="#0a0a0a" stroke-width="0.9" textLength="112.5" lengthAdjust="spacingAndGlyphs">Investing</text>
<text x="136.6" y="464.6" font-size="17.8" fill="#444" textLength="37.8" lengthAdjust="spacingAndGlyphs">.com</text>
<polygon points="98.6,448.6 101.4,444.6 104.6,443.6 103.4,447.6" fill="#f5a01e"/>
</g>
<text x="18" y="77.6" font-size="13" fill="#111">BB</text>
<text x="18" y="91" font-size="13.25" fill="#111">Volumen</text>
<text x="18" y="507" font-size="13" fill="#111">OBV</text>
<g clip-path="url(#co)"><polyline points="5.9,626.2 13.4,625.1 19.8,626.4 27.3,625.1 33.7,626.4 41.1,617.6 48.5,599 55.2,579 62.2,547.8 69.8,543.5 76.4,543.5 83.7,545.1 90.9,545.1 97.5,545.1 104.7,543.5 112.2,544.3 118.6,546.2 126.2,553.6 132.4,571.8 140,585.6 147.2,613.6 153.4,617.6 161,617.6 168.7,617.6 174.9,617.6 182.3,617.6 189.9,620.3 196.1,618.4 203.6,617.1 209.8,607.5 217.2,583 225,566.2 231.2,592.3 238.7,588.3 246.1,588.3 252.3,588.3 259.9,589.9 267.1,589.9 273.7,589.9 281.2,588.6 288.6,588.6 294.8,583.8 302.2,569.1 308.8,548.3 316.3,513.7 323.5,508.9 329.9,510.2 337.3,510.2 344.8,511.5 351,510.2 358.6,511.5 365.8,510.2 372.4,521.1 379.9,503 387.3,524.3 393.7,557.6 400.9,559.8 407.5,559.8 414.8,559.8 422.2,559.8 428.6,561.4 436,559.8 443.5,558.4 449.6,557.4 457.3,550.2 464.7,568.8 471.3,553.7 478.3,531.5 486.2,535 492.4,535 499.8,535 506,536.3 513.6,536.3 521.1,537.7 527.3,536.3 534.9,535 542.3,541.1 548.5,529.7 556,544.3 563.6,565.1 569.8,562.4 577,562.4 583.8,562.4 591.5,562.4 598.7,560.8 604.9,559.5 612.1,558.2 620,558.2 626.2,563.8" fill="none" stroke="#5050fa" stroke-width="1.0" stroke-linejoin="round"/></g>
<rect x="8" y="484.4" width="762" height="2" fill="#000"/>
<rect x="769" y="58" width="1.15" height="600" fill="#000"/>
<rect x="672.4" y="58" width="1.3" height="577.6" fill="#5a5a5a"/>
<rect x="8" y="634.5" width="665.7" height="1.3" fill="#5a5a5a"/>
<g clip-path="url(#cax)" font-size="14.45" fill="#555">
<rect x="673" y="81.4" width="4.3" height="1.2" fill="#555"/>
<text x="681" y="87">2.700</text>
<rect x="673" y="126.1" width="4.3" height="1.2" fill="#555"/>
<text x="681" y="131.7">2.650</text>
<rect x="673" y="172.6" width="4.3" height="1.2" fill="#555"/>
<text x="681" y="178.2">2.600</text>
<rect x="673" y="219.6" width="4.3" height="1.2" fill="#555"/>
<text x="681" y="225.2">2.550</text>
<rect x="673" y="267.1" width="4.3" height="1.2" fill="#555"/>
<text x="681" y="272.7">2.500</text>
<rect x="673" y="306" width="4.3" height="1.2" fill="#555"/>
<text x="681" y="311.6">2.460</text>
<rect x="673" y="344.8" width="4.3" height="1.2" fill="#555"/>
<text x="681" y="350.4">2.420</text>
<rect x="673" y="384.6" width="4.3" height="1.2" fill="#555"/>
<text x="681" y="390.2">2.380</text>
<rect x="673" y="426.4" width="4.3" height="1.2" fill="#555"/>
<text x="681" y="432">2.340</text>
<rect x="673" y="462.3" width="4.3" height="1.2" fill="#555"/>
<text x="681" y="467.9">2.305</text>
<rect x="673" y="512.5" width="4.3" height="1.2" fill="#555"/>
<text x="681" y="518.1">-700000.0000</text>
<rect x="673" y="558.9" width="4.3" height="1.2" fill="#555"/>
<text x="681" y="564.5">-800000.0000</text>
<rect x="673" y="606.4" width="4.3" height="1.2" fill="#555"/>
<text x="681" y="612">-900000.0000</text>
</g>
<g clip-path="url(#ct)">
<rect x="128.4" y="635.8" width="135.8" height="23.4" fill="#82cbd9"/>
<rect x="196.8" y="635.8" width="1.1" height="4.6" fill="#333"/>
<text x="133.2" y="653.8" font-size="14.3" fill="#111" textLength="132.7" lengthAdjust="spacingAndGlyphs">2023-02-09 09:00:00</text>
<rect x="330.6" y="635.8" width="1.2" height="4.6" fill="#555"/>
<text x="331.2" y="653.8" font-size="14" font-weight="bold" fill="#444" text-anchor="middle">13</text>
<rect x="500.6" y="635.8" width="1.2" height="4.6" fill="#555"/>
<text x="501.2" y="653.8" font-size="14" font-weight="bold" fill="#444" text-anchor="middle">15</text>
<rect x="668.6" y="635.8" width="1.2" height="4.6" fill="#555"/>
<text x="669.2" y="653.8" font-size="14" font-weight="bold" fill="#444" text-anchor="middle">17</text>
</g>
</svg></body></html>
